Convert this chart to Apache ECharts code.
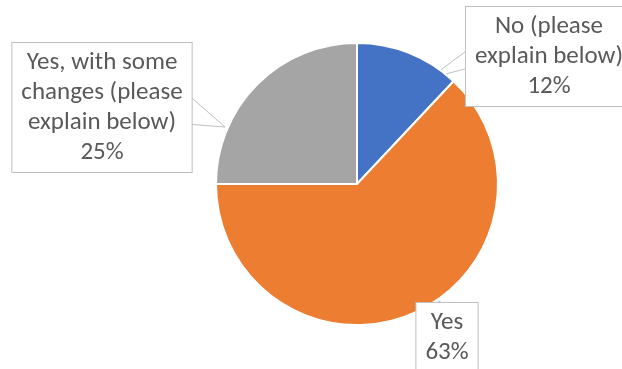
<!DOCTYPE html>
<html>
<head>
<meta charset="utf-8">
<script src="https://cdn.jsdelivr.net/npm/echarts@6/dist/echarts.min.js"></script>
<style>
html, body { margin: 0; padding: 0; background: #fff; }
#chart { width: 622px; height: 369px; }
</style>
</head>
<body>
<div id="chart"></div>
<script>
// data
const categories = ['No (please explain below)', 'Yes', 'Yes, with some changes (please explain below)'];
const labelText = ['No (please\nexplain below)', 'Yes', 'Yes, with some\nchanges (please\nexplain below)'];
const shares = [12, 63, 25];
const colors = ['#4472C4', '#ED7D31', '#A5A5A5'];

// callout boxes: top-centre of each box, pointer tip, and where the pointer meets the box
const callouts = [
  { x: 549, top: 7, tip: [430, 78], side: 'left', base: [26, 60] },
  { x: 447, top: 303, tip: [410, 284], side: 'top', base: [428, 442] },
  { x: 102, top: 43, tip: [225, 127], side: 'right', base: [82, 123] }
];

const chart = echarts.init(document.getElementById('chart'));

// the series box is made wider than the page so pie labels are not squeezed at the edge
const option = {
  animation: false,
  color: colors,
  series: [
    {
      type: 'pie',
      left: -300,
      right: -300,
      top: 0,
      bottom: 0,
      center: [657, 184],
      radius: 141,
      startAngle: 90,
      clockwise: true,
      itemStyle: { borderColor: '#fff', borderWidth: 2 },
      label: {
        position: 'outside',
        formatter: function (p) {
          return labelText[p.dataIndex] + '\n' + p.percent.toFixed(0) + '%';
        },
        fontFamily: 'Carlito, Lato, sans-serif',
        fontSize: 25,
        lineHeight: 30,
        color: '#595959',
        align: 'center',
        backgroundColor: '#fff',
        borderColor: '#BFBFBF',
        borderWidth: 1,
        padding: [5, 9, 4, 9]
      },
      labelLine: {
        show: true,
        showAbove: true,
        length: 10,
        length2: 10,
        lineStyle: { color: '#BFBFBF', width: 1 }
      },
      labelLayout: function (params) {
        const c = callouts[params.dataIndex];
        const w = params.rect.width;
        let a, b;
        if (c.side === 'left') {
          a = [c.x - w / 2, c.base[0]];
          b = [c.x - w / 2, c.base[1]];
        } else if (c.side === 'right') {
          a = [c.x + w / 2, c.base[0]];
          b = [c.x + w / 2, c.base[1]];
        } else {
          a = [c.base[0], c.top];
          b = [c.base[1], c.top];
        }
        return {
          x: c.x,
          y: c.top,
          align: 'center',
          verticalAlign: 'top',
          labelLinePoints: [a, c.tip, b]
        };
      },
      data: categories.map(function (name, i) {
        return { name: name, value: shares[i] };
      })
    }
  ]
};

chart.setOption(option);
</script>
</body>
</html>
